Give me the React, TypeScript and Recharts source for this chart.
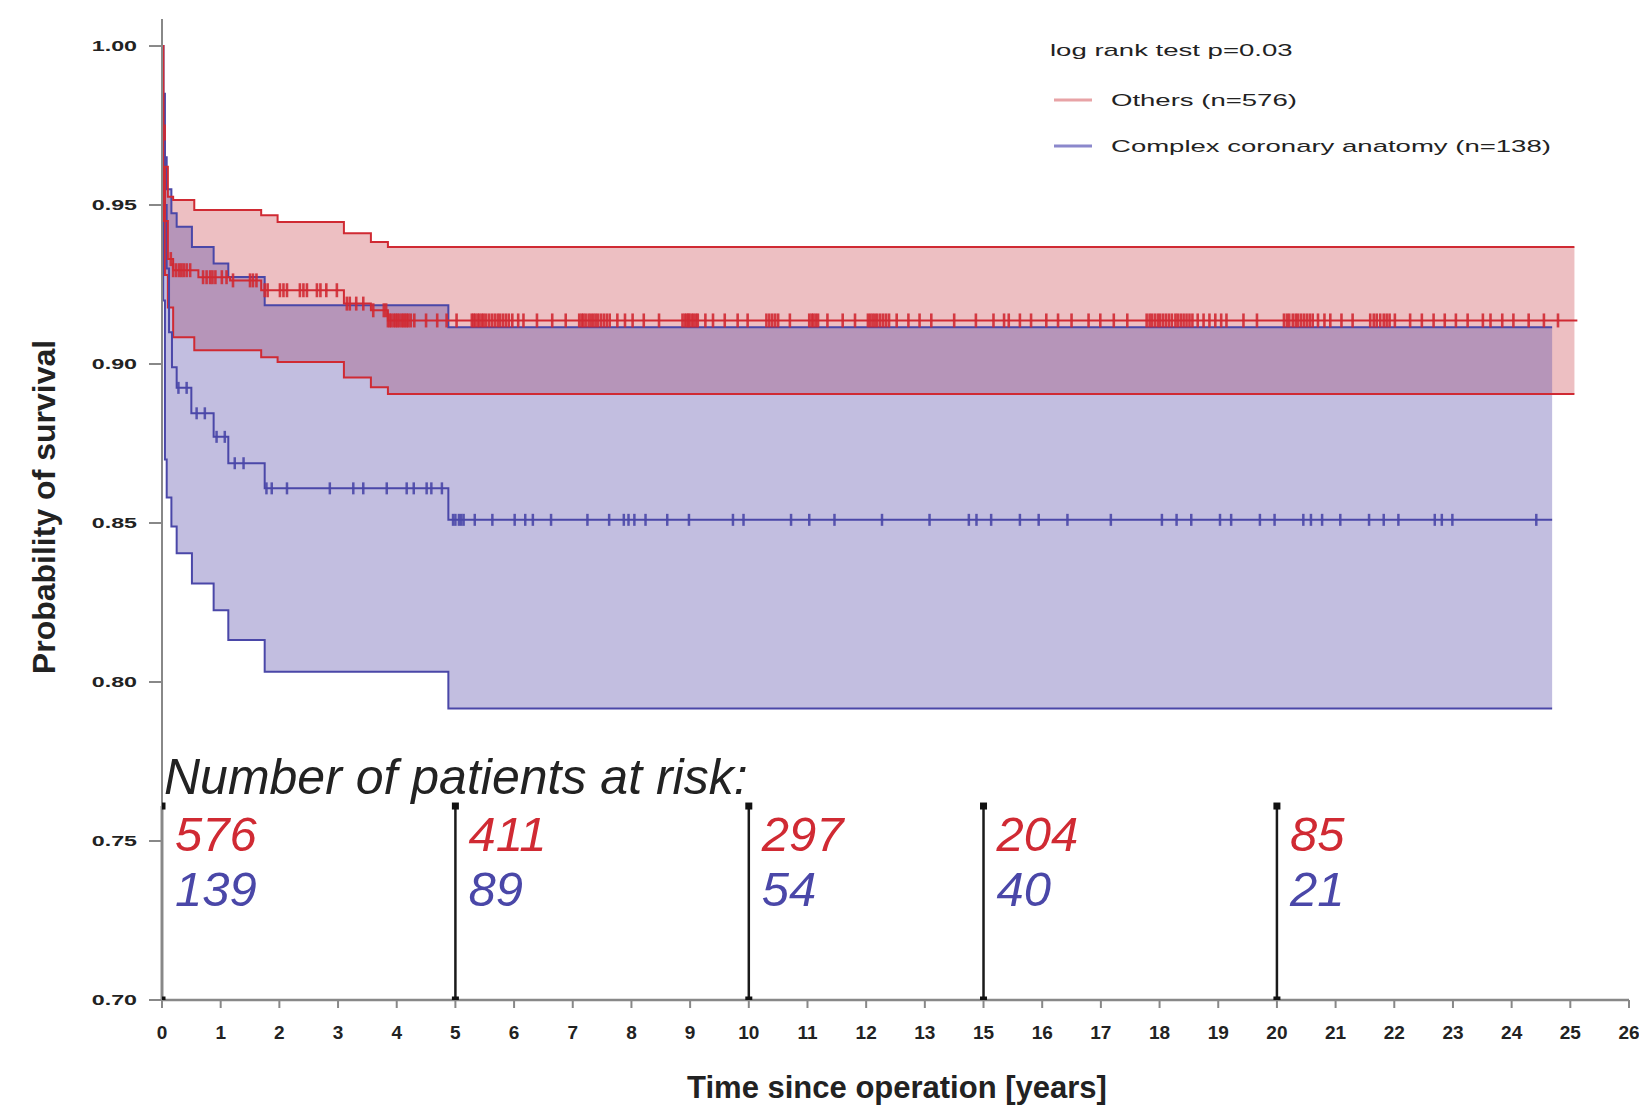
import React from 'react';
import { ComposedChart, Area, Line, Scatter, XAxis, YAxis, ReferenceLine } from 'recharts';

// ---------- data ----------
// The printed time axis has evenly spaced ticks labelled 0..13, 15..26 (14 is skipped in the source figure).
// Times below are axis positions (tick index units).
const xTickPos = [0, 1, 2, 3, 4, 5, 6, 7, 8, 9, 10, 11, 12, 13, 14, 15, 16, 17, 18, 19, 20, 21, 22, 23, 24, 25];
const xTickLabels = ['0', '1', '2', '3', '4', '5', '6', '7', '8', '9', '10', '11', '12', '13', '15', '16', '17', '18', '19', '20', '21', '22', '23', '24', '25', '26'];
const yTicks = [0.7, 0.75, 0.8, 0.85, 0.9, 0.95, 1.0];

const legendTitle = 'log rank test p=0.03';
const seriesNames = ['Others (n=576)', 'Complex coronary anatomy (n=138)'];

// "Others" group (red)
const redSurvT = [0, 0.02, 0.05, 0.1, 0.19, 0.62, 1.16, 1.69, 3.1, 3.56, 3.85, 24.12];
const redSurvV = [1.0, 0.962, 0.945, 0.933, 0.9295, 0.9273, 0.9263, 0.9232, 0.919, 0.9169, 0.9137, 0.9137];
const redCiT = [0, 0.02, 0.05, 0.1, 0.19, 0.55, 1.69, 1.97, 3.1, 3.56, 3.85, 24.07];
const redUpper = [1.0, 0.975, 0.962, 0.9526, 0.9516, 0.9484, 0.9468, 0.9447, 0.9411, 0.9384, 0.9368, 0.9368];
const redLower = [1.0, 0.945, 0.928, 0.9178, 0.9084, 0.9043, 0.9021, 0.9006, 0.8958, 0.8927, 0.8906, 0.8906];

// "Complex coronary anatomy" group (blue)
const blueSurvT = [0, 0.02, 0.05, 0.08, 0.12, 0.17, 0.25, 0.5, 0.88, 1.13, 1.75, 4.88, 23.69];
const blueSurvV = [1.0, 0.97, 0.95, 0.93, 0.91, 0.899, 0.8925, 0.8845, 0.8771, 0.8688, 0.8609, 0.851, 0.851];
const blueCiT = [0, 0.02, 0.05, 0.08, 0.16, 0.25, 0.51, 0.88, 1.13, 1.75, 4.88, 23.69];
const blueUpper = [1.0, 0.985, 0.965, 0.955, 0.9474, 0.9432, 0.9368, 0.9316, 0.9274, 0.9185, 0.9116, 0.9116];
const blueLower = [1.0, 0.92, 0.87, 0.858, 0.8489, 0.8405, 0.831, 0.8226, 0.8132, 0.8032, 0.7917, 0.7917];

// censoring times
const redCensor = [0.15, 0.19, 0.24, 0.29, 0.33, 0.37, 0.42, 0.48, 0.7, 0.76, 0.82, 0.86, 0.91, 1.02, 1.1, 1.21, 1.5, 1.55, 1.61, 1.75, 1.8, 2.01, 2.07, 2.13, 2.35, 2.41, 2.47, 2.64, 2.7, 2.8, 2.98, 3.15, 3.2, 3.31, 3.43, 3.6, 3.78, 3.82, 3.85, 3.88, 3.91, 3.95, 3.98, 4.01, 4.04, 4.08, 4.11, 4.14, 4.17, 4.2, 4.24, 4.3, 4.5, 4.69, 4.85, 5.02, 5.28, 5.31, 5.34, 5.38, 5.41, 5.45, 5.48, 5.52, 5.57, 5.62, 5.67, 5.72, 5.76, 5.81, 5.86, 5.91, 5.97, 6.07, 6.16, 6.39, 6.65, 6.88, 7.11, 7.15, 7.18, 7.22, 7.27, 7.31, 7.35, 7.39, 7.43, 7.48, 7.53, 7.58, 7.63, 7.76, 7.89, 8.02, 8.21, 8.47, 8.87, 8.91, 8.94, 8.97, 8.99, 9.03, 9.06, 9.1, 9.13, 9.26, 9.39, 9.59, 9.81, 9.98, 10.3, 10.35, 10.4, 10.45, 10.5, 10.7, 11.03, 11.07, 11.1, 11.14, 11.18, 11.34, 11.6, 11.81, 12.03, 12.07, 12.11, 12.15, 12.19, 12.24, 12.29, 12.34, 12.39, 12.52, 12.72, 12.91, 13.11, 13.5, 13.87, 14.17, 14.35, 14.43, 14.62, 14.81, 15.07, 15.27, 15.5, 15.79, 15.99, 16.22, 16.45, 16.78, 16.83, 16.87, 16.92, 16.97, 17.01, 17.06, 17.11, 17.16, 17.21, 17.27, 17.31, 17.36, 17.41, 17.46, 17.51, 17.56, 17.65, 17.75, 17.85, 17.95, 18.05, 18.14, 18.43, 18.66, 19.12, 19.17, 19.21, 19.27, 19.32, 19.36, 19.41, 19.46, 19.51, 19.56, 19.61, 19.7, 19.81, 19.91, 20.1, 20.29, 20.59, 20.65, 20.7, 20.76, 20.82, 20.87, 20.92, 21.01, 21.27, 21.47, 21.67, 21.86, 22.05, 22.25, 22.51, 22.64, 22.84, 23.03, 23.29, 23.55, 23.79];
const blueCensor = [0.28, 0.42, 0.59, 0.73, 0.93, 1.07, 1.24, 1.39, 1.78, 1.87, 2.13, 2.86, 3.26, 3.43, 3.83, 4.17, 4.29, 4.51, 4.59, 4.77, 4.96, 5.0, 5.06, 5.1, 5.14, 5.33, 5.63, 6.01, 6.19, 6.32, 6.63, 7.25, 7.62, 7.87, 7.95, 8.05, 8.24, 8.61, 8.98, 9.73, 9.91, 10.72, 11.03, 11.46, 12.27, 13.08, 13.75, 13.88, 14.13, 14.62, 14.94, 15.43, 16.17, 17.04, 17.29, 17.54, 18.03, 18.22, 18.71, 18.96, 19.45, 19.58, 19.77, 20.08, 20.57, 20.82, 21.07, 21.69, 21.81, 21.99, 23.42];

// number at risk table (positions of the ticks labelled 0, 5, 10, 15, 20)
const riskTitle = 'Number of patients at risk:';
const riskPos = [0, 5, 10, 14, 19];
const riskOthers = [576, 411, 297, 204, 85];
const riskComplex = [139, 89, 54, 40, 21];

const xTitle = 'Time since operation [years]';
const yTitle = 'Probability of survival';

// ---------- helpers ----------
const RED = '#d02a33';
const BLUE = '#4a47a8';
const FONT = '"Liberation Sans", Arial, sans-serif';
const RISK_TOP = 0.761;
const RISK_BOTTOM = 0.7;

function stepAt(ts: number[], vs: number[], t: number) {
  let v = vs[0];
  for (let i = 0; i < ts.length; i++) if (ts[i] <= t) v = vs[i];
  return v;
}
const curve = (ts: number[], vs: number[]) => ts.map((t, i) => ({ t, v: vs[i] }));
const band = (ts: number[], lo: number[], hi: number[]) =>
  ts.map((t, i) => ({ t, range: [lo[i], hi[i]], lo: lo[i], hi: hi[i] }));
const censor = (cs: number[], ts: number[], vs: number[]) => cs.map((t) => ({ t, v: stepAt(ts, vs, t) }));

const redSurv = curve(redSurvT, redSurvV);
const blueSurv = curve(blueSurvT, blueSurvV);
const redBand = band(redCiT, redLower, redUpper);
const blueBand = band(blueCiT, blueLower, blueUpper);
const redCens = censor(redCensor, redSurvT, redSurvV);
const blueCens = censor(blueCensor, blueSurvT, blueSurvV);
const riskTopRows = riskPos.map((t, i) => ({ t, v: RISK_TOP, a: riskOthers[i], b: riskComplex[i] }));
const riskBottomRows = riskPos.map((t) => ({ t, v: RISK_BOTTOM }));

const censorShape = (color: string, h: number, w: number) => (p: any) => (
  <line x1={p.cx} x2={p.cx} y1={p.cy - h} y2={p.cy + h} stroke={color} strokeWidth={w} strokeOpacity={0.9} />
);

const RiskTop = (p: any) => (
  <g>
    <rect x={p.cx - 3.5} y={p.cy - 3.5} width={7} height={7} fill="#111" />
    <text x={p.cx + 13} y={p.cy + 45} fontSize={49} fontStyle="italic" fill={RED} fontFamily={FONT}>
      {p.payload.a}
    </text>
    <text x={p.cx + 13} y={p.cy + 100} fontSize={49} fontStyle="italic" fill={BLUE} fontFamily={FONT}>
      {p.payload.b}
    </text>
  </g>
);
const RiskBottom = (p: any) => <rect x={p.cx - 3.5} y={p.cy - 3.5} width={7} height={7} fill="#111" />;

const YTick = (p: any) => (
  <text
    transform={`translate(${p.x - 12},${p.y}) scale(1.55,1)`}
    textAnchor="end"
    dy="0.35em"
    fontSize={15}
    fontWeight="bold"
    fill="#222"
    fontFamily={FONT}
  >
    {p.payload.value.toFixed(2)}
  </text>
);
const XTick = (p: any) => {
  const idx = xTickPos.indexOf(p.payload.value);
  return (
    <text x={p.x} y={p.y + 24} textAnchor="middle" dy="0.35em" fontSize={19} fontWeight="bold" fill="#222" fontFamily={FONT}>
      {xTickLabels[idx]}
    </text>
  );
};

export default function App() {
  return (
    <div style={{ position: 'absolute', left: 0, top: 0, width: 1639, height: 1106, background: '#fff' }}>
      <ComposedChart width={1639} height={1106} margin={{ top: 19, right: 10, bottom: 0, left: 0 }}>
        <XAxis
          dataKey="t"
          type="number"
          domain={[0, 25]}
          ticks={xTickPos}
          allowDataOverflow
          height={106}
          tickSize={8}
          tickMargin={0}
          axisLine={{ stroke: '#888', strokeWidth: 2.5 }}
          tickLine={{ stroke: '#888', strokeWidth: 2 }}
          tick={<XTick />}
          interval={0}
        />
        <YAxis
          type="number"
          domain={[0.7, 1.0085]}
          ticks={yTicks}
          allowDataOverflow
          width={162}
          tickSize={13}
          tickMargin={0}
          axisLine={{ stroke: '#888', strokeWidth: 2 }}
          tickLine={{ stroke: '#888', strokeWidth: 2 }}
          tick={<YTick />}
          interval={0}
        />
        <Area data={redBand} dataKey="range" type="stepAfter" stroke="none" fill="#c83c46" fillOpacity={0.33} isAnimationActive={false} />
        <Area data={blueBand} dataKey="range" type="stepAfter" stroke="none" fill="#554aa8" fillOpacity={0.36} isAnimationActive={false} />
        <Line data={blueBand} dataKey="hi" type="stepAfter" stroke={BLUE} strokeWidth={2} dot={false} isAnimationActive={false} />
        <Line data={blueBand} dataKey="lo" type="stepAfter" stroke={BLUE} strokeWidth={2} dot={false} isAnimationActive={false} />
        <Line data={redBand} dataKey="hi" type="stepAfter" stroke={RED} strokeWidth={2} dot={false} isAnimationActive={false} />
        <Line data={redBand} dataKey="lo" type="stepAfter" stroke={RED} strokeWidth={2} dot={false} isAnimationActive={false} />
        <Line data={blueSurv} dataKey="v" type="stepAfter" stroke={BLUE} strokeWidth={2} dot={false} isAnimationActive={false} />
        <Line data={redSurv} dataKey="v" type="stepAfter" stroke={RED} strokeWidth={2} dot={false} isAnimationActive={false} />
        <Scatter data={blueCens} dataKey="v" shape={censorShape(BLUE, 6, 2.5)} isAnimationActive={false} />
        <Scatter data={redCens} dataKey="v" shape={censorShape(RED, 7, 2.6)} isAnimationActive={false} />
        {riskPos.map((t) => (
          <ReferenceLine
            key={t}
            segment={[{ x: t, y: RISK_TOP }, { x: t, y: RISK_BOTTOM }]}
            stroke="#1a1a1a"
            strokeWidth={2.5}
          />
        ))}
        <Scatter data={riskTopRows} dataKey="v" shape={RiskTop} isAnimationActive={false} />
        <Scatter data={riskBottomRows} dataKey="v" shape={RiskBottom} isAnimationActive={false} />
      </ComposedChart>
      <svg width={1639} height={1106} style={{ position: 'absolute', left: 0, top: 0, pointerEvents: 'none' }} fontFamily={FONT}>
        <text transform="translate(44,507) rotate(-90)" textAnchor="middle" dy="0.35em" fontSize={32} fontWeight="bold" fill="#222">
          {yTitle}
        </text>
        <text x={897} y={1087} textAnchor="middle" dy="0.35em" fontSize={31} fontWeight="bold" fill="#222">
          {xTitle}
        </text>
        <text x={164} y={794} fontSize={50} fontStyle="italic" fill="#222">
          {riskTitle}
        </text>
        <text transform="translate(1050,50) scale(1.62,1)" dy="0.35em" fontSize={17} fill="#222">
          {legendTitle}
        </text>
        <line x1={1054} x2={1092} y1={100} y2={100} stroke="#e8a3a6" strokeWidth={3} />
        <text transform="translate(1111,100) scale(1.62,1)" dy="0.35em" fontSize={17} fill="#222">
          {seriesNames[0]}
        </text>
        <line x1={1054} x2={1092} y1={146} y2={146} stroke="#8b88cc" strokeWidth={3} />
        <text transform="translate(1111,146) scale(1.62,1)" dy="0.35em" fontSize={17} fill="#222">
          {seriesNames[1]}
        </text>
      </svg>
    </div>
  );
}
